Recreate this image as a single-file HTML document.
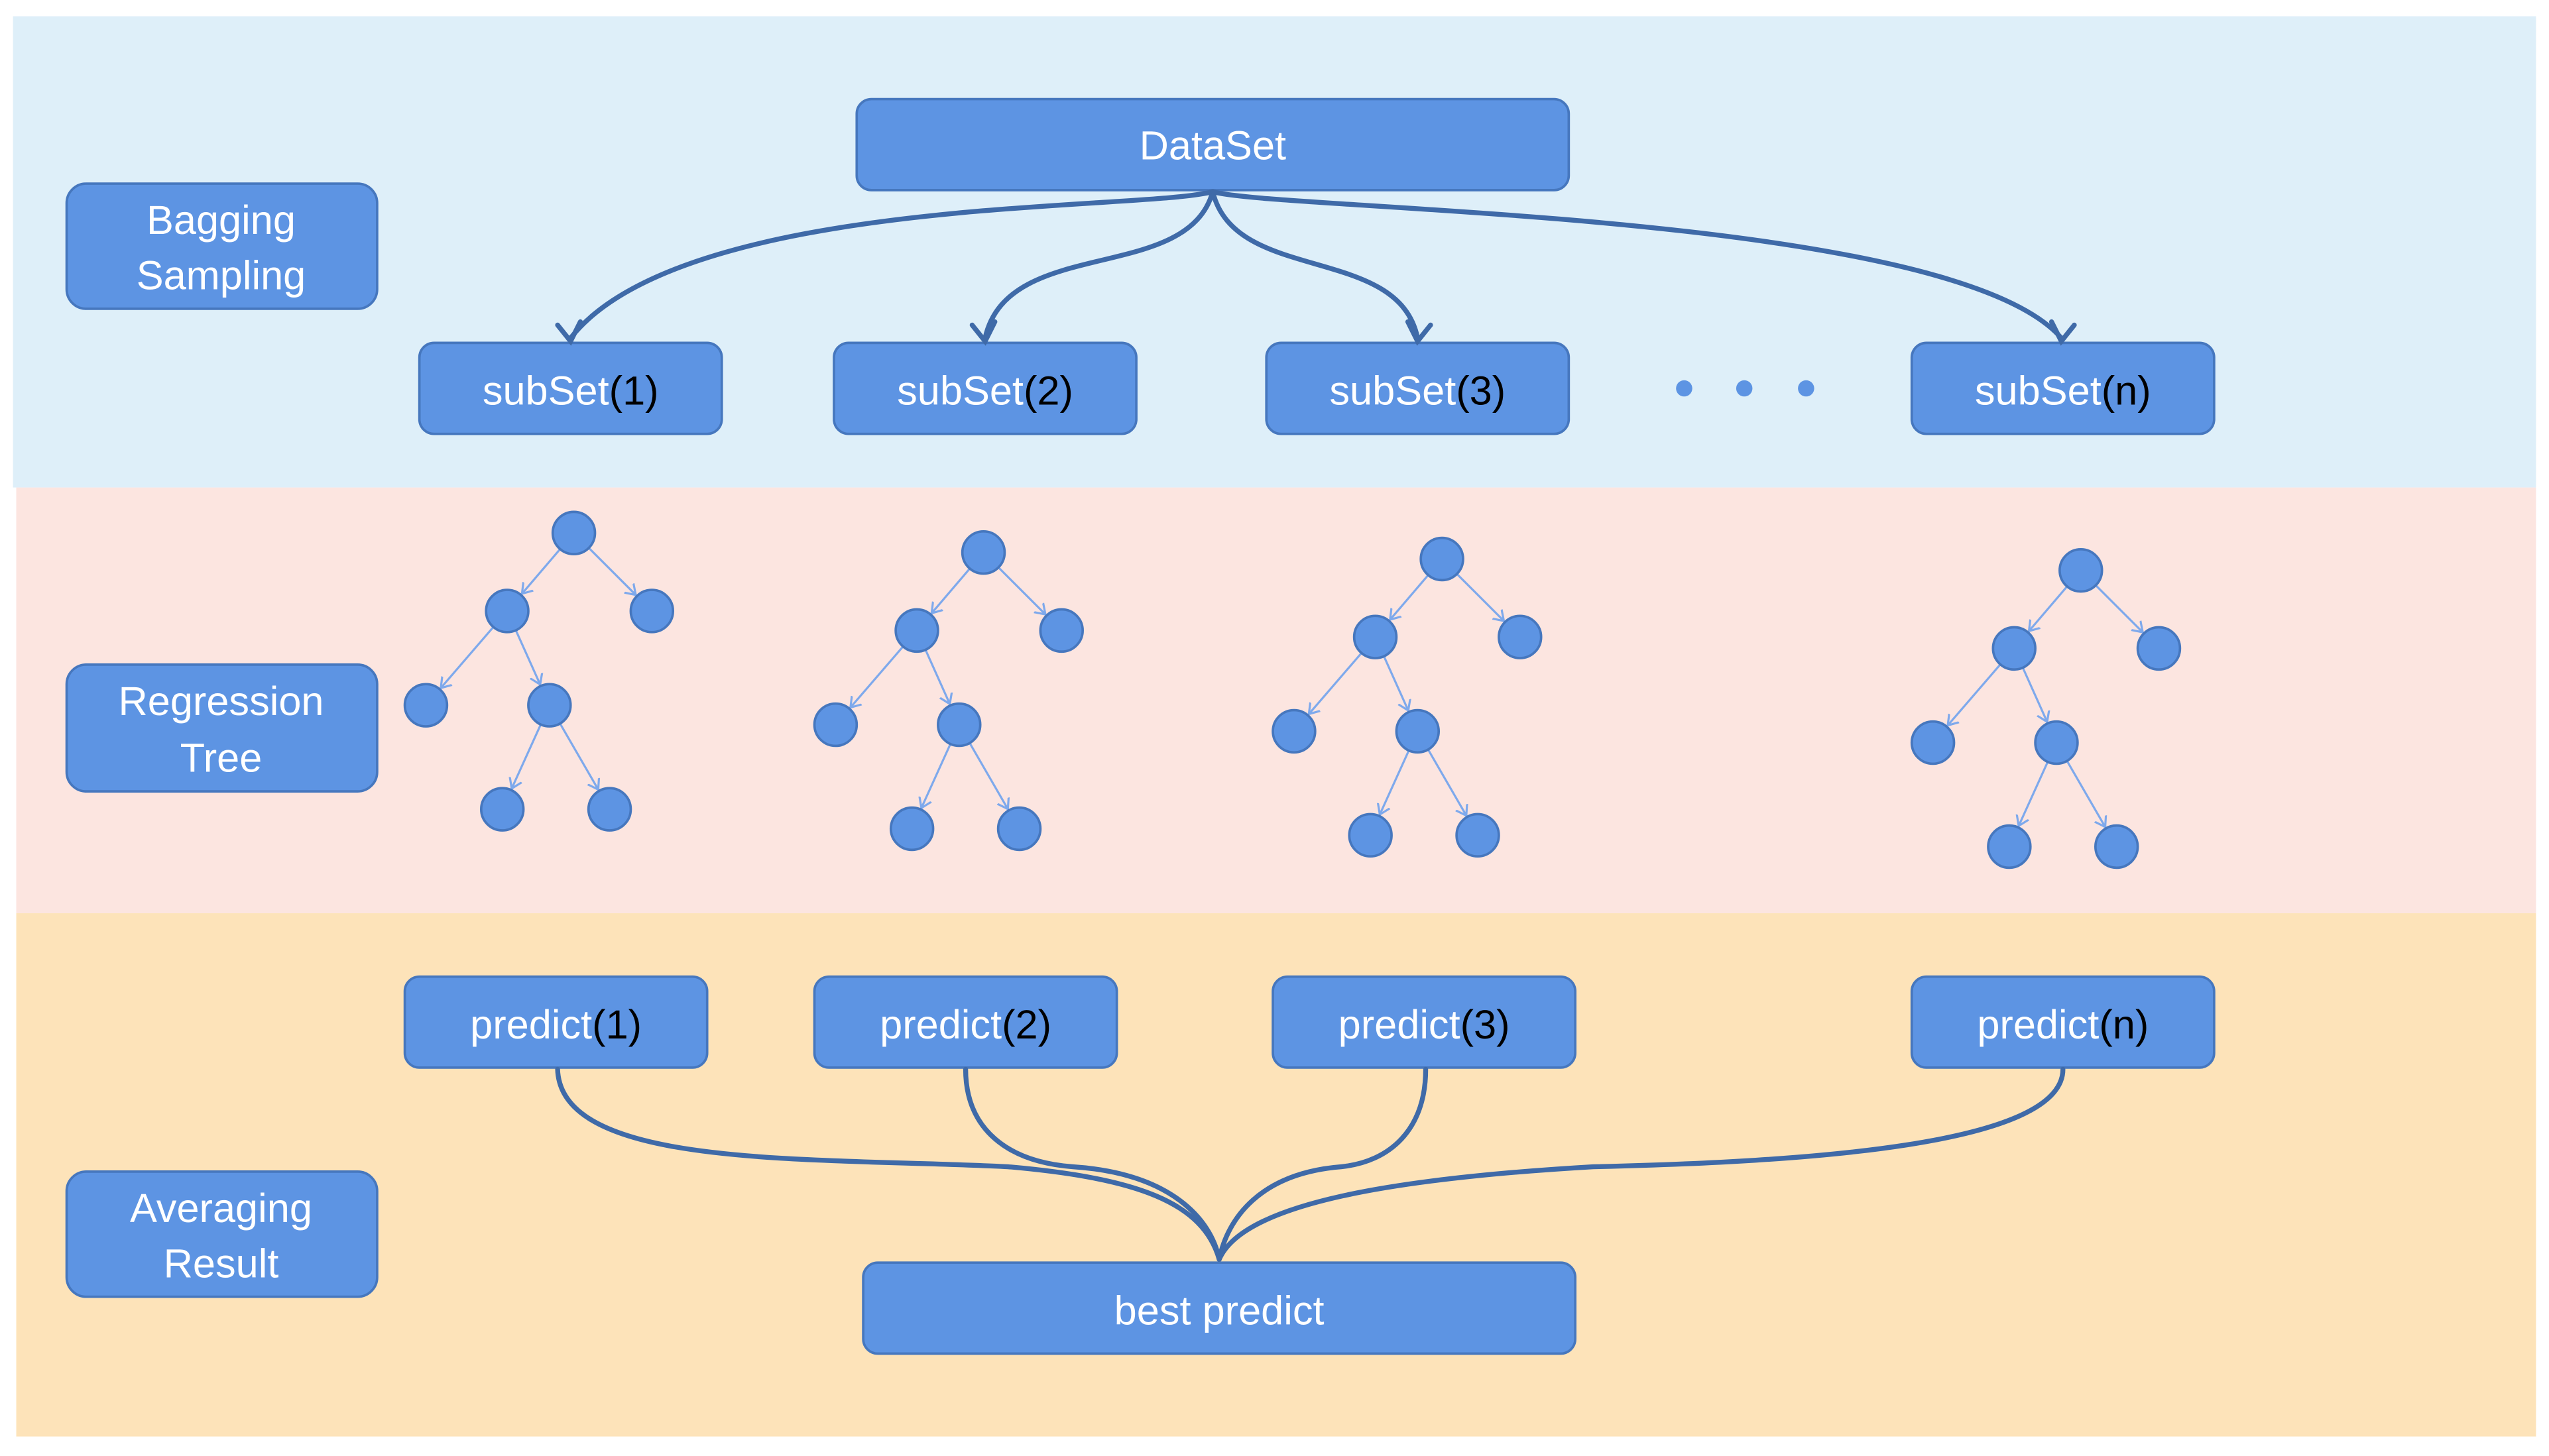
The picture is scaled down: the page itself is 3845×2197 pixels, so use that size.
<!DOCTYPE html>
<html><head><meta charset="utf-8"><style>
html,body{margin:0;padding:0;background:#fff;}
svg{display:block;}
text{font-family:"Liberation Sans",Arial,sans-serif;}
</style></head><body>
<svg width="3845" height="2197" viewBox="0 0 1568 896" preserveAspectRatio="none" xmlns="http://www.w3.org/2000/svg">
<defs>
<marker id="ta" markerWidth="22" markerHeight="12" viewBox="-20 -6 22 12" refX="0" refY="0" orient="auto" markerUnits="userSpaceOnUse">
<path d="M-20,-4 L-14,0 L-20,4" fill="none" stroke="#7ea9ec" stroke-width="1.3"/>
</marker>
</defs>
<rect x="0" y="0" width="1568" height="896" fill="#fff"/>
<rect x="8" y="10" width="1552" height="290" fill="#deeff9"/>
<rect x="10" y="300" width="1550" height="262" fill="#fce5e0"/>
<rect x="10" y="562" width="1550" height="322" fill="#fde3b9"/>

<g fill="#5d94e3" stroke="#4677be" stroke-width="1.5">
<rect x="527" y="61" width="438" height="56" rx="9"/>
<rect x="41" y="113" width="191" height="77" rx="12"/>
<rect x="258" y="211" width="186" height="56" rx="9"/>
<rect x="513" y="211" width="186" height="56" rx="9"/>
<rect x="779" y="211" width="186" height="56" rx="9"/>
<rect x="1176" y="211" width="186" height="56" rx="9"/>
<rect x="41" y="409" width="191" height="78" rx="12"/>
<rect x="41" y="721" width="191" height="77" rx="12"/>
<rect x="249" y="601" width="186" height="56" rx="9"/>
<rect x="501" y="601" width="186" height="56" rx="9"/>
<rect x="783" y="601" width="186" height="56" rx="9"/>
<rect x="1176" y="601" width="186" height="56" rx="9"/>
<rect x="531" y="777" width="438" height="56" rx="9"/>
</g>

<g fill="#5d94e3">
<circle cx="1036" cy="239" r="5"/><circle cx="1073" cy="239" r="5"/><circle cx="1111" cy="239" r="5"/>
</g>

<g fill="none" stroke="#3f6aa8" stroke-width="3" stroke-linecap="round">
<path d="M746 118 C700 130 420 120 351 208"/>
<path d="M746 118 C730 175 620 145 606 208"/>
<path d="M746 118 C760 175 860 150 872 208"/>
<path d="M746 118 C790 130 1200 130 1268 208"/>
<path d="M343 200 L351 210 L357 198"/>
<path d="M598 200 L606 210 L612 198"/>
<path d="M866 198 L872 210 L880 200"/>
<path d="M1262 198 L1268 210 L1276 200"/>
<path d="M343 658 C345 720 500 712 620 718 C700 725 740 740 750 775"/>
<path d="M594 658 C594 695 620 715 660 718 C720 722 745 750 750 775"/>
<path d="M877 658 C877 695 855 715 825 718 C775 722 755 750 750 775"/>
<path d="M1269 658 C1269 705 1110 715 980 718 C860 725 765 740 750 775"/>
</g>

<g font-size="25" fill="#fff" text-anchor="middle">
<text x="746" y="98">DataSet</text>
<text x="136" y="144">Bagging</text>
<text x="136" y="178">Sampling</text>
<text x="136" y="440">Regression</text>
<text x="136" y="475">Tree</text>
<text x="136" y="752">Averaging</text>
<text x="136" y="786">Result</text>
<text x="750" y="815">best predict</text>
<text x="351" y="249">subSet<tspan fill="#000">(1)</tspan></text>
<text x="606" y="249">subSet<tspan fill="#000">(2)</tspan></text>
<text x="872" y="249">subSet<tspan fill="#000">(3)</tspan></text>
<text x="1269" y="249">subSet<tspan fill="#000">(n)</tspan></text>
<text x="342" y="639">predict<tspan fill="#000">(1)</tspan></text>
<text x="594" y="639">predict<tspan fill="#000">(2)</tspan></text>
<text x="876" y="639">predict<tspan fill="#000">(3)</tspan></text>
<text x="1269" y="639">predict<tspan fill="#000">(n)</tspan></text>
</g>

<g id="t1">
<g stroke="#7ea9ec" stroke-width="1.3" fill="none" marker-end="url(#ta)">
<path d="M353 328 L312 376"/><path d="M353 328 L401 376"/><path d="M312 376 L262 434"/><path d="M312 376 L338 434"/><path d="M338 434 L309 498"/><path d="M338 434 L375 498"/>
</g>
<g fill="#5d94e3" stroke="#4677be" stroke-width="1.5">
<circle cx="353" cy="328" r="13"/><circle cx="312" cy="376" r="13"/><circle cx="401" cy="376" r="13"/><circle cx="262" cy="434" r="13"/><circle cx="338" cy="434" r="13"/><circle cx="309" cy="498" r="13"/><circle cx="375" cy="498" r="13"/>
</g>
</g>
<use href="#t1" transform="translate(252,12)"/>
<use href="#t1" transform="translate(534,16)"/>
<use href="#t1" transform="translate(927,23)"/>
</svg>
</body></html>
